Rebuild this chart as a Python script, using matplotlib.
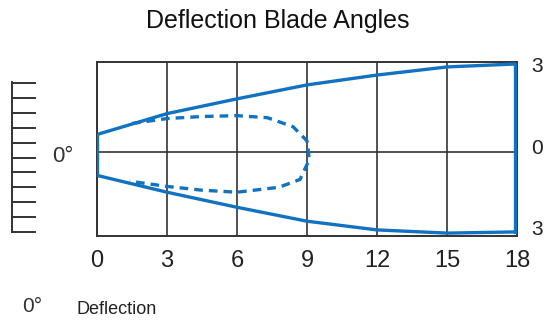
import numpy as np
import matplotlib
matplotlib.use('Agg')
import matplotlib.pyplot as plt

# Deflection (x) grid and tick labels
x_ticks = [0, 3, 6, 9, 12, 15, 18]
x_labels = ['0', '3', '6', '9', '12', '15', '18']

# Outer envelope (solid)
outer_x = [0, 3, 6, 9, 12, 15, 17.9]
outer_upper = [0.62, 1.34, 1.85, 2.33, 2.67, 2.95, 3.05]
outer_lower = [-0.79, -1.37, -1.89, -2.37, -2.67, -2.78, -2.74]

# Inner loop (dashed)
inner_x = [1.5, 3, 4.5, 6, 7.3, 8.4, 9.0, 9.1, 8.7, 7.8, 6, 4.5, 3, 1.4]
inner_y = [1.0, 1.17, 1.24, 1.27, 1.20, 0.89, 0.40, -0.24, -0.93, -1.20, -1.37, -1.30, -1.17, -0.99]

# Right-hand scale labels
right_pos = [3.05, 0.2, -2.57]
right_labels = ['3', '0', '3']

blue = '#1272c2'
grid_c = '#333333'
font = ['Liberation Sans', 'DejaVu Sans']

W, H = 545, 325
fig = plt.figure(figsize=(W / 100, H / 100), dpi=100)
ax = fig.add_axes([97 / W, 1 - 236 / H, (517 - 97) / W, (236 - 62) / H])
ax.set_xlim(0, 18)
ax.set_ylim(-2.88, 3.12)

for xv in x_ticks:
    ax.axvline(xv, color=grid_c, lw=1.2, zorder=1)
ax.axhline(0, color=grid_c, lw=1.2, zorder=1)
for s in ax.spines.values():
    s.set_color(grid_c)
    s.set_linewidth(1.4)

ax.plot(outer_x, outer_upper, color=blue, lw=2.4, solid_capstyle='butt', zorder=3)
ax.plot(outer_x, outer_lower, color=blue, lw=2.4, solid_capstyle='butt', zorder=3)
ax.plot([0, 0], [outer_lower[0], outer_upper[0]], color=blue, lw=2.4, zorder=3)
ax.plot([outer_x[-1], outer_x[-1]], [outer_lower[-1], outer_upper[-1]], color=blue, lw=2.4, zorder=3)
ax.plot(inner_x, inner_y, color=blue, lw=2.4, ls=(0, (2.6, 1.8)), zorder=3)

ax.set_xticks(x_ticks)
ax.set_xticklabels(x_labels, family=font, fontsize=17, color='#222222')
ax.tick_params(axis='x', length=0, pad=10)
ax.yaxis.tick_right()
ax.set_yticks(right_pos)
ax.set_yticklabels(right_labels, family=font, fontsize=15, color='#222222')
ax.tick_params(axis='y', length=0, pad=10)


def px(x, y):
    return x / W, 1 - y / H


# ladder decoration on the left
ys = np.linspace(83, 232, 11)
fig.add_artist(plt.Line2D(*zip(px(12, 82), px(12, 232)), color=grid_c, lw=1.4))
for yy in ys:
    fig.add_artist(plt.Line2D(*zip(px(12, yy), px(35, yy)), color=grid_c, lw=1.4))

fig.text(*px(52, 157), '0°', family=font, fontsize=16, color='#333333', va='center', ha='left')
fig.text(*px(22, 307), '0°', family=font, fontsize=15, color='#333333', va='center', ha='left')
fig.text(*px(76, 309), 'Deflection', family=font, fontsize=13, color='#222222', va='center', ha='left')
fig.text(*px(278, 21), 'Deflection Blade Angles', family=font,
         fontsize=18, color='#111111', va='center', ha='center')

fig.savefig('out.png', dpi=100)
